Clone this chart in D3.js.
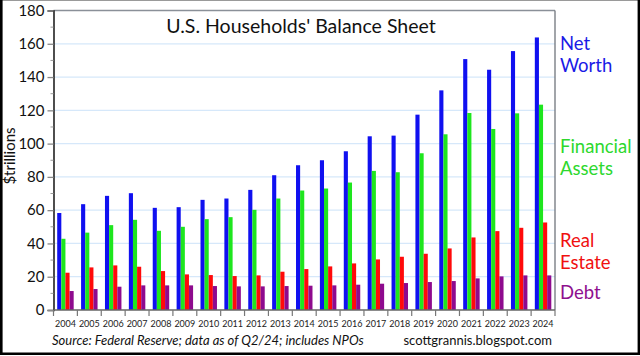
<!DOCTYPE html>
<html><head><meta charset="utf-8">
<script src="https://cdn.jsdelivr.net/npm/d3@7"></script>
<style>
html,body{margin:0;padding:0;background:#fff;}
svg{display:block;}
text{font-family:Lato,"Open Sans",sans-serif;}
</style></head>
<body>
<script>
const years = ["2004","2005","2006","2007","2008","2009","2010","2011","2012","2013","2014","2015","2016","2017","2018","2019","2020","2021","2022","2023","2024"];
const netWorth = [58.3,63.6,68.6,70.2,61.4,61.8,66.2,67.0,72.2,81.0,87.0,90.0,95.4,104.4,104.8,117.4,132.0,150.8,144.4,155.6,163.8];
const financialAssets = [42.8,46.5,51.0,54.2,47.6,50.0,54.6,55.8,60.2,67.0,71.8,73.0,76.6,83.6,82.8,94.2,105.6,118.4,108.8,118.2,123.4];
const realEstate = [22.4,25.6,26.8,26.0,23.4,21.4,21.0,20.4,20.8,23.0,24.6,26.2,28.0,30.4,32.0,33.8,37.0,43.6,47.4,49.4,52.6];
const debt = [11.4,12.6,14.0,14.8,14.8,14.8,14.4,14.2,14.2,14.4,14.6,14.8,15.2,15.8,16.2,16.8,17.4,19.0,20.2,20.8,20.8];
const seriesNames = ["Net Worth","Financial Assets","Real Estate","Debt"];
const seriesLabelLines = [["Net","Worth"],["Financial","Assets"],["Real","Estate"],["Debt"]];
const yTicks = [0,20,40,60,80,100,120,140,160,180];
const title = "U.S. Households' Balance Sheet";
const yLabel = "$trillions";
const sourceText = "Source: Federal Reserve; data as of Q2/24; includes NPOs";
const siteText = "scottgrannis.blogspot.com";

const colors = ["#1010f0","#1ee61e","#ff0a0a","#8e0a8e"];
const labelColors = ["#1a1ae6","#2ed82e","#f01010","#8e108e"];
const allSeries = [netWorth, financialAssets, realEstate, debt];

const W = 640, H = 356;
const m = {left:53.5, right:555, top:10.5, bottom:310};
const svg = d3.select("body").append("svg").attr("width",W).attr("height",H);

// outer border
svg.append("rect").attr("x",0).attr("y",0).attr("width",W).attr("height",H).attr("fill","#fff");
svg.append("line").attr("x1",0).attr("x2",W).attr("y1",0.5).attr("y2",0.5).attr("stroke","#9a9a9a").attr("stroke-width",1);
svg.append("line").attr("x1",1.3).attr("x2",1.3).attr("y1",0).attr("y2",355).attr("stroke","#000").attr("stroke-width",2.6);
svg.append("line").attr("x1",638.8).attr("x2",638.8).attr("y1",0).attr("y2",355).attr("stroke","#000").attr("stroke-width",2.4);
svg.append("line").attr("x1",0).attr("x2",W).attr("y1",353.8).attr("y2",353.8).attr("stroke","#000").attr("stroke-width",2.6);

const y = d3.scaleLinear().domain([0,180]).range([m.bottom, m.top]);
const x0 = d3.scaleBand().domain(years).range([m.left, m.right]).paddingInner(0).paddingOuter(0);
const x1 = d3.scaleBand().domain(seriesNames).range([0, x0.bandwidth()]).paddingInner(0).paddingOuter(0.9);

// gridlines
svg.append("g").selectAll("line").data(yTicks.filter(t=>t>0 && t<180)).join("line")
  .attr("x1",m.left).attr("x2",m.right).attr("y1",d=>y(d)).attr("y2",d=>y(d))
  .attr("stroke","#d6e8fa").attr("stroke-width",1.2);

// bars
const gb = svg.append("g");
years.forEach((yr,i)=>{
  seriesNames.forEach((s,j)=>{
    gb.append("rect")
      .attr("x", x0(yr)+x1(s))
      .attr("y", y(allSeries[j][i]))
      .attr("width", x1.bandwidth())
      .attr("height", y(0)-y(allSeries[j][i]))
      .attr("fill", colors[j]);
  });
});

// frame: top gray, right gray
svg.append("line").attr("x1",m.left).attr("x2",m.right).attr("y1",m.top).attr("y2",m.top).attr("stroke","#8a9098").attr("stroke-width",1.6);
svg.append("line").attr("x1",m.right).attr("x2",m.right).attr("y1",m.top).attr("y2",m.bottom).attr("stroke","#70757c").attr("stroke-width",1.3);

// y axis
const yAxis = d3.axisLeft(y).tickValues(yTicks).tickSize(6).tickPadding(3).tickFormat(d3.format("d"));
const gy = svg.append("g").attr("transform",`translate(${m.left},0)`).call(yAxis);
gy.select(".domain").attr("stroke","#222").attr("stroke-width",1.6);
gy.selectAll(".tick line").attr("stroke","#888").attr("stroke-width",1.3);
gy.selectAll(".tick text").attr("font-size",15).attr("fill","#111").attr("font-family","Lato,sans-serif");
// minor ticks
const minor = d3.range(10,180,20);
svg.append("g").selectAll("line").data(minor).join("line")
  .attr("x1",m.left-3).attr("x2",m.left).attr("y1",d=>y(d)).attr("y2",d=>y(d))
  .attr("stroke","#999").attr("stroke-width",1);

// x axis
svg.append("line").attr("x1",m.left).attr("x2",m.right).attr("y1",m.bottom).attr("y2",m.bottom).attr("stroke","#666").attr("stroke-width",1.3);
const bounds = years.map(d=>x0(d)).concat([m.right]);
svg.append("g").selectAll("line").data(bounds).join("line")
  .attr("x1",d=>d).attr("x2",d=>d).attr("y1",m.bottom).attr("y2",m.bottom+6)
  .attr("stroke","#777").attr("stroke-width",1.2);
svg.append("g").selectAll("text").data(years).join("text")
  .attr("x",d=>x0(d)+x0.bandwidth()/2).attr("y",327)
  .attr("text-anchor","middle").attr("font-size",9).attr("fill","#222").text(d=>d);

// y label
svg.append("text").attr("transform","translate(15,156) rotate(-90)")
  .attr("text-anchor","middle").attr("font-size",15).attr("fill","#111").text(yLabel);

// title
svg.append("text").attr("x",301).attr("y",33).attr("text-anchor","middle")
  .attr("font-size",19.5).attr("fill","#111").text(title);

// right labels
const labelBaselines = [[50,72],[153,175],[247,269],[299]];
seriesLabelLines.forEach((lines,j)=>{
  lines.forEach((ln,k)=>{
    svg.append("text").attr("x",560).attr("y",labelBaselines[j][k])
      .attr("font-size",18.5).attr("fill",labelColors[j]).text(ln);
  });
});

// footer
svg.append("text").attr("x",52).attr("y",345).attr("font-size",13).attr("font-style","italic")
  .attr("fill","#111").text(sourceText);
svg.append("text").attr("x",552).attr("y",345).attr("text-anchor","end").attr("font-size",13)
  .attr("fill","#111").text(siteText);
</script>
</body></html>
